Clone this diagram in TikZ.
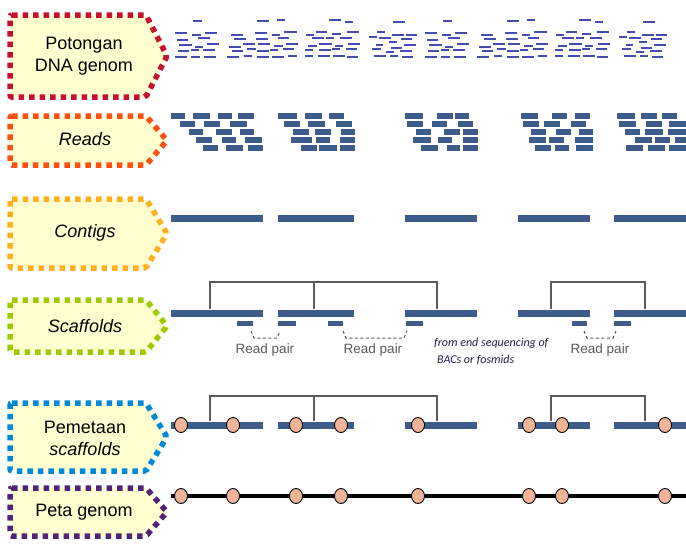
\documentclass[tikz,border=0pt]{standalone}
\usepackage{fontspec}
\setmainfont{Liberation Sans}
\newfontfamily\carl{Carlito}
\definecolor{boxfill}{RGB}{255,255,208}
\definecolor{cRed}{RGB}{200,16,46}
\definecolor{cOrange}{RGB}{255,80,20}
\definecolor{cAmber}{RGB}{255,176,32}
\definecolor{cLime}{RGB}{160,200,0}
\definecolor{cBlue}{RGB}{0,136,216}
\definecolor{cPurple}{RGB}{80,36,120}
\definecolor{frag}{RGB}{70,76,176}
\definecolor{readc}{RGB}{62,92,138}
\definecolor{peach}{RGB}{242,180,150}
\definecolor{brk}{RGB}{90,90,90}
\definecolor{navy}{RGB}{30,30,70}
\tikzset{
  boxline/.style={line width=5.5pt, dash pattern=on 5.5pt off 5pt, fill=boxfill, rounded corners=2pt},
  lab/.style={font=\fontsize{18}{22}\selectfont, align=center, inner sep=0pt},
  fragline/.style={draw=frag, line width=2.2pt},
  readbox/.style={fill=readc},
  bracket/.style={draw=brk, line width=1.2pt},
  pairline/.style={draw=brk, line width=1pt, dash pattern=on 3pt off 2.5pt},
  pairlab/.style={font=\fontsize{13.5}{15}\selectfont, text=brk, inner sep=0pt},
  notelab/.style={font=\carl\itshape\fontsize{12}{14}\selectfont, text=navy, inner sep=0pt, anchor=west},
  marker/.style={draw=black, fill=peach, line width=0.9pt},
}
\newcommand\labbox[3]{%
  \draw[boxline, draw=#1] (10,#2) -- (146,#2) -- (167,{(#2+#3)/2}) -- (146,#3) -- (10,#3) -- cycle;}
\begin{document}
\begin{tikzpicture}[x=1pt,y=-1pt]
\useasboundingbox (0,0) rectangle (686,544);

% ---- label boxes ----
\labbox{cRed}{15}{97}
\labbox{cOrange}{116}{165}
\labbox{cAmber}{199}{268}
\labbox{cLime}{300}{352}
\labbox{cBlue}{403}{471}
\labbox{cPurple}{488}{536}
\node[lab] (potongan) at (84,56) {Potongan\\DNA genom};
\node[lab] (reads) at (85,139) {\itshape Reads};
\node[lab] (contigs) at (85,233) {\itshape Contigs};
\node[lab] (scaffolds) at (85,326) {\itshape Scaffolds};
\node[lab] (pemetaan) at (85,438) {Pemetaan\\\itshape scaffolds};
\node[lab] (peta) at (84,512) {Peta genom};

% ---- DNA fragments (pattern repeats every 250) ----
\foreach \o in {0,250}{
 \foreach \a/\b/\y in {
  193/202/21, 175/187/33, 192/201/35, 205/217/33, 177/188/40, 198/210/38,
  179/192/45, 195/203/47, 207/219/44, 178/189/51, 191/199/50, 203/215/50,
  175/187/57, 191/200/57, 204/216/57,
  257/269/21, 277/285/20, 231/243/35, 255/267/33, 272/280/35, 284/297/32,
  234/246/39, 256/268/39, 278/289/38, 243/255/44, 258/270/44, 274/283/46,
  286/298/44, 229/241/47, 247/256/49, 232/243/51, 257/269/51, 270/278/50,
  283/294/49, 227/239/57, 244/252/56, 257/269/57, 272/284/57, 288/297/56,
  329/341/20, 345/353/22, 316/327/32, 347/359/32, 306/314/35, 332/341/34,
  312/324/38, 326/334/38, 340/352/38, 319/332/44, 348/360/44, 308/317/46,
  335/343/46, 305/313/50, 319/331/50, 332/340/49, 346/357/49, 305/313/56,
  318/330/56, 333/345/56, 347/358/57,
  393/405/22, 377/385/32, 369/377/37, 379/391/38, 392/404/35, 406/417/35,
  389/397/42, 401/412/39, 376/383/45, 404/416/45, 372/381/49, 391/402/48,
  386/394/52, 400/412/51, 374/386/56, 390/398/56, 402/413/57}
  {\draw[fragline] (\a+\o,\y) -- (\b+\o,\y);}
}

% ---- reads ----
\foreach \a/\b/\r in {
  171/185/1, 193/210/1, 218/232/1, 238/254/1,
  180/195/2, 204/220/2, 230/247/2,
  189/203/3, 216/232/3, 240/254/3,
  196/212/4, 222/236/4, 245/262/4,
  203/218/5, 226/243/5, 248/263/5,
  278/297/1, 305/322/1, 329/344/1,
  284/300/2, 308/325/2, 336/352/2,
  293/309/3, 315/331/3, 341/355/3,
  291/312/4, 316/330/4, 340/355/4,
  301/317/5, 319/337/5, 340/355/5,
  405/423/1, 437/453/1, 455/469/1,
  407/423/2, 432/447/2, 458/473/2,
  416/431/3, 444/460/3, 463/478/3,
  413/431/4, 438/452/4, 463/478/4,
  421/438/5, 447/460/5, 463/478/5,
  521/538/1, 552/567/1, 575/590/1,
  523/539/2, 544/560/2, 571/586/2,
  531/546/3, 556/571/3, 579/593/3,
  529/546/4, 549/564/4, 575/593/4,
  535/551/5, 555/569/5, 576/593/5,
  617/635/1, 641/657/1, 662/677/1,
  619/636/2, 646/662/2, 669/686/2,
  625/640/3, 645/663/3, 668/686/3,
  635/652/4, 655/670/4, 675/686/4,
  626/643/5, 648/665/5, 669/686/5}
  {\fill[readbox] (\a,{104.5+\r*8}) rectangle (\b,{110.5+\r*8});}

% ---- contigs ----
\foreach \a/\b in {171/263, 278/354, 405/477, 518/590, 614/686}{
  \fill[readc] (\a,215) rectangle (\b,222);
  \fill[readc] (\a,310) rectangle (\b,317);
  \fill[readc] (\a,422) rectangle (\b,429);
}

% ---- scaffolds ----
\foreach \a/\b in {237/253, 278/296, 328/343, 406/423, 572/587, 614/631}
  {\fill[readc] (\a,321) rectangle (\b,326);}
\draw[bracket] (210,309) -- (210,282) -- (437,282) -- (437,309);
\draw[bracket] (314,282) -- (314,309);
\draw[bracket] (551,309) -- (551,282) -- (645,282) -- (645,309);
\draw[pairline] (251,331) -- (254,338) -- (277,338) -- (280,331);
\draw[pairline] (343,331) -- (346,338) -- (404,338) -- (407,331);
\draw[pairline] (584,331) -- (587,338) -- (613,338) -- (616,331);
\node[pairlab] (rp1) at (265,350) {Read pair};
\node[pairlab] (rp2) at (373,350) {Read pair};
\node[pairlab] (rp3) at (600,350) {Read pair};
\node[notelab] (note1) at (434,343) {from end sequencing of};
\node[notelab] (note2) at (437,360) {BACs or fosmids};

% ---- mapped scaffolds ----
\draw[bracket] (210,421) -- (210,396) -- (437,396) -- (437,421);
\draw[bracket] (314,396) -- (314,421);
\draw[bracket] (551,421) -- (551,396) -- (645,396) -- (645,421);
\foreach \x in {181,233,296,341,418,529,562,665}
  {\draw[marker] (\x,425) ellipse [x radius=6.5, y radius=7.5];}

% ---- genome map ----
\draw[black, line width=3.2pt] (171,496) -- (686,496);
\foreach \x in {181,233,296,341,418,529,562,665}
  {\draw[marker] (\x,496) ellipse [x radius=6.5, y radius=7.5];}
\end{tikzpicture}
\end{document}
